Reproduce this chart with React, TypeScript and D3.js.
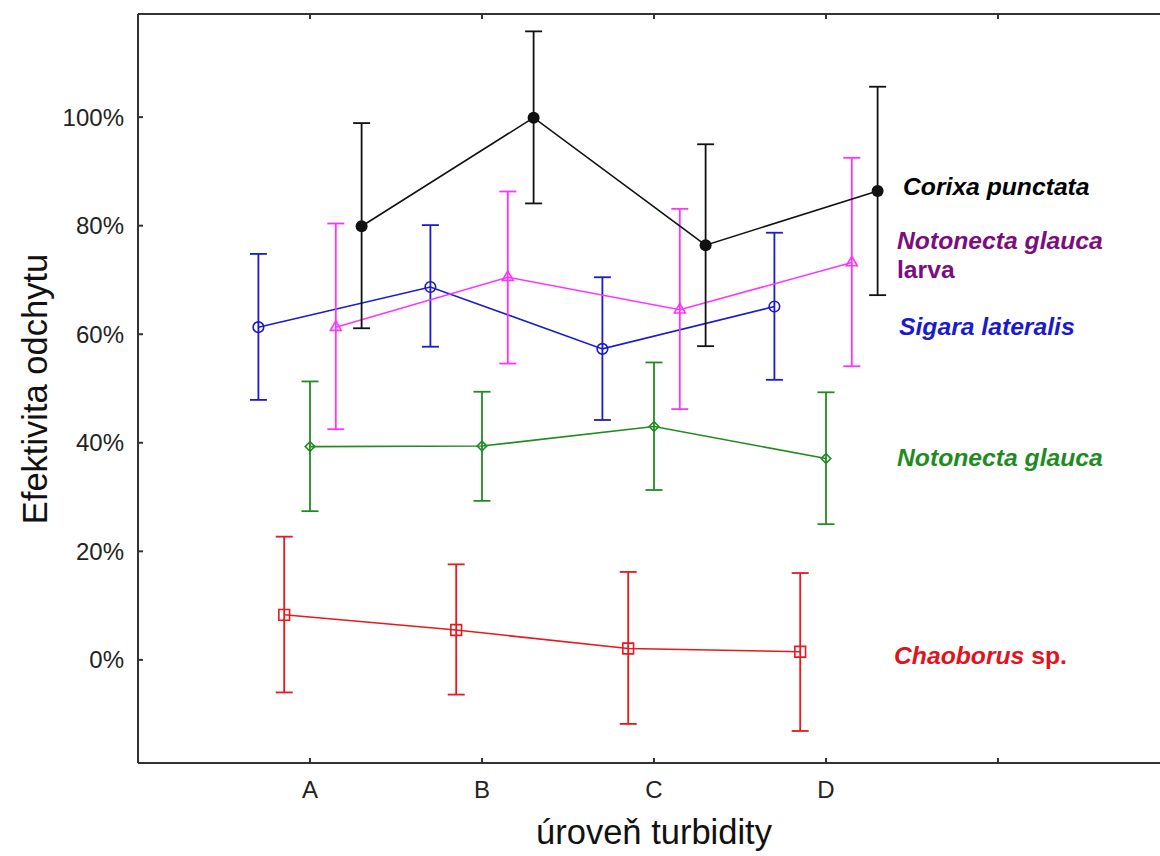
import React from 'react'
import * as d3 from 'd3'

const categories = ['A', 'B', 'C', 'D']
const yTicks = [0, 20, 40, 60, 80, 100]

const corixaMean = [79.9, 99.9, 76.4, 86.4]
const corixaHi = [98.9, 115.8, 95.0, 105.6]
const corixaLo = [61.1, 84.1, 57.8, 67.2]

const larvaMean = [61.3, 70.5, 64.5, 73.2]
const larvaHi = [80.4, 86.3, 83.1, 92.5]
const larvaLo = [42.5, 54.6, 46.2, 54.1]

const sigaraMean = [61.3, 68.7, 57.3, 65.1]
const sigaraHi = [74.8, 80.1, 70.5, 78.7]
const sigaraLo = [47.9, 57.7, 44.2, 51.6]

const glaucaMean = [39.3, 39.4, 43.0, 37.1]
const glaucaHi = [51.3, 49.4, 54.8, 49.3]
const glaucaLo = [27.4, 29.3, 31.3, 25.0]

const chaoMean = [8.3, 5.5, 2.1, 1.5]
const chaoHi = [22.7, 17.6, 16.2, 16.0]
const chaoLo = [-6.0, -6.4, -11.8, -13.1]

const series = [
  {name: 'chao', color: '#e8181e', shift: -0.15, symbol: 'square', mean: chaoMean, hi: chaoHi, lo: chaoLo},
  {name: 'glauca', color: '#228a22', shift: 0, symbol: 'diamond', mean: glaucaMean, hi: glaucaHi, lo: glaucaLo},
  {name: 'sigara', color: '#1a1ad0', shift: -0.3, symbol: 'circle', mean: sigaraMean, hi: sigaraHi, lo: sigaraLo},
  {name: 'larva', color: '#ff33ff', shift: 0.15, symbol: 'triangle', mean: larvaMean, hi: larvaHi, lo: larvaLo},
  {name: 'corixa', color: '#111111', shift: 0.3, symbol: 'dot', mean: corixaMean, hi: corixaHi, lo: corixaLo},
]

const font = '"Liberation Sans", Arial, sans-serif'

export default function App() {
  const layout = {width: 1160, height: 856, left: 138, top: 14, bottom: 763, right: 1170}

  const x = d3.scaleLinear().domain([0, 6]).range([layout.left, layout.right])
  const y = d3.scaleLinear().domain([-19, 119]).range([layout.bottom, layout.top])
  const xTicks = [1, 2, 3, 4, 5]

  const line = d3.line<number>()
  const capW = 8.5

  function marker(s: any, cx: number, cy: number, key: string) {
    if (s.symbol === 'dot') {
      return <circle key={key} cx={cx} cy={cy} r={6} fill={s.color} />
    }
    if (s.symbol === 'circle') {
      return <circle key={key} cx={cx} cy={cy} r={5.3} fill="none" stroke={s.color} strokeWidth={1.6} />
    }
    if (s.symbol === 'triangle') {
      const p = d3.symbol().type(d3.symbolTriangle).size(52)()
      return <path key={key} d={p || ''} transform={`translate(${cx},${cy})`} fill="none" stroke={s.color} strokeWidth={1.6} />
    }
    if (s.symbol === 'diamond') {
      const p = d3.symbol().type(d3.symbolSquare).size(46)()
      return <path key={key} d={p || ''} transform={`translate(${cx},${cy}) rotate(45)`} fill="none" stroke={s.color} strokeWidth={1.6} />
    }
    const p = d3.symbol().type(d3.symbolSquare).size(115)()
    return <path key={key} d={p || ''} transform={`translate(${cx},${cy})`} fill="none" stroke={s.color} strokeWidth={1.6} />
  }

  const labelStyle = {fontFamily: font, fontSize: 24.7, fontWeight: 'bold' as const, fontStyle: 'italic' as const}

  return (
    <svg width={layout.width} height={layout.height} style={{position: 'absolute', left: 0, top: 0, background: '#fff'}}>
      {/* frame */}
      <g stroke="#333" strokeWidth={2} fill="none">
        <line x1={layout.left} x2={layout.left} y1={layout.top} y2={layout.bottom} />
        <line x1={layout.left} x2={layout.width} y1={layout.top} y2={layout.top} />
        <line x1={layout.left} x2={layout.width} y1={layout.bottom} y2={layout.bottom} />
        {xTicks.map(t => (
          <g key={'xt' + t}>
            <line x1={x(t)} x2={x(t)} y1={layout.bottom} y2={layout.bottom - 5} />
            <line x1={x(t)} x2={x(t)} y1={layout.top} y2={layout.top + 5} />
          </g>
        ))}
        {yTicks.map(t => (
          <line key={'yt' + t} x1={layout.left} x2={layout.left + 5} y1={y(t)} y2={y(t)} />
        ))}
      </g>

      {yTicks.map(t => (
        <text key={'yl' + t} x={124} y={y(t)} dy="0.35em" textAnchor="end" fontFamily={font} fontSize={24} fill="#222">{t}%</text>
      ))}
      {categories.map((c, i) => (
        <text key={'xl' + c} x={x(i + 1)} y={798} textAnchor="middle" fontFamily={font} fontSize={24} fill="#222">{c}</text>
      ))}

      <text transform={`translate(47,389) rotate(-90)`} textAnchor="middle" fontFamily={font} fontSize={34.5} fill="#111">Efektivita odchytu</text>
      <text x={654} y={844} textAnchor="middle" fontFamily={font} fontSize={34.5} fill="#111">úroveň turbidity</text>

      {series.map(s => {
        const pts = s.mean.map((m, i) => [x(i + 1 + s.shift), y(m)] as [number, number])
        return (
          <g key={s.name}>
            <path d={line(pts as any) || ''} fill="none" stroke={s.color} strokeWidth={1.6} />
            {s.mean.map((m, i) => {
              const cx = x(i + 1 + s.shift)
              return (
                <g key={s.name + 'e' + i} stroke={s.color} strokeWidth={1.8}>
                  <line x1={cx} x2={cx} y1={y(s.hi[i])} y2={y(s.lo[i])} />
                  <line x1={cx - capW} x2={cx + capW} y1={y(s.hi[i])} y2={y(s.hi[i])} />
                  <line x1={cx - capW} x2={cx + capW} y1={y(s.lo[i])} y2={y(s.lo[i])} />
                </g>
              )
            })}
            {s.mean.map((m, i) => marker(s, x(i + 1 + s.shift), y(m), s.name + 'm' + i))}
          </g>
        )
      })}

      <text x={903} y={195} {...labelStyle} fill="#000">Corixa punctata</text>
      <text x={897} y={249} {...labelStyle} fill="#7d0c7d">Notonecta glauca</text>
      <text x={897} y={278} {...labelStyle} fontStyle="normal" fill="#7d0c7d">larva</text>
      <text x={899} y={335} {...labelStyle} fill="#1a1acd">Sigara lateralis</text>
      <text x={897} y={466} {...labelStyle} fill="#1f8c1f">Notonecta glauca</text>
      <text x={894} y={664} {...labelStyle} fill="#e3131b">
        Chaoborus<tspan fontStyle="normal"> sp.</tspan>
      </text>
    </svg>
  )
}
